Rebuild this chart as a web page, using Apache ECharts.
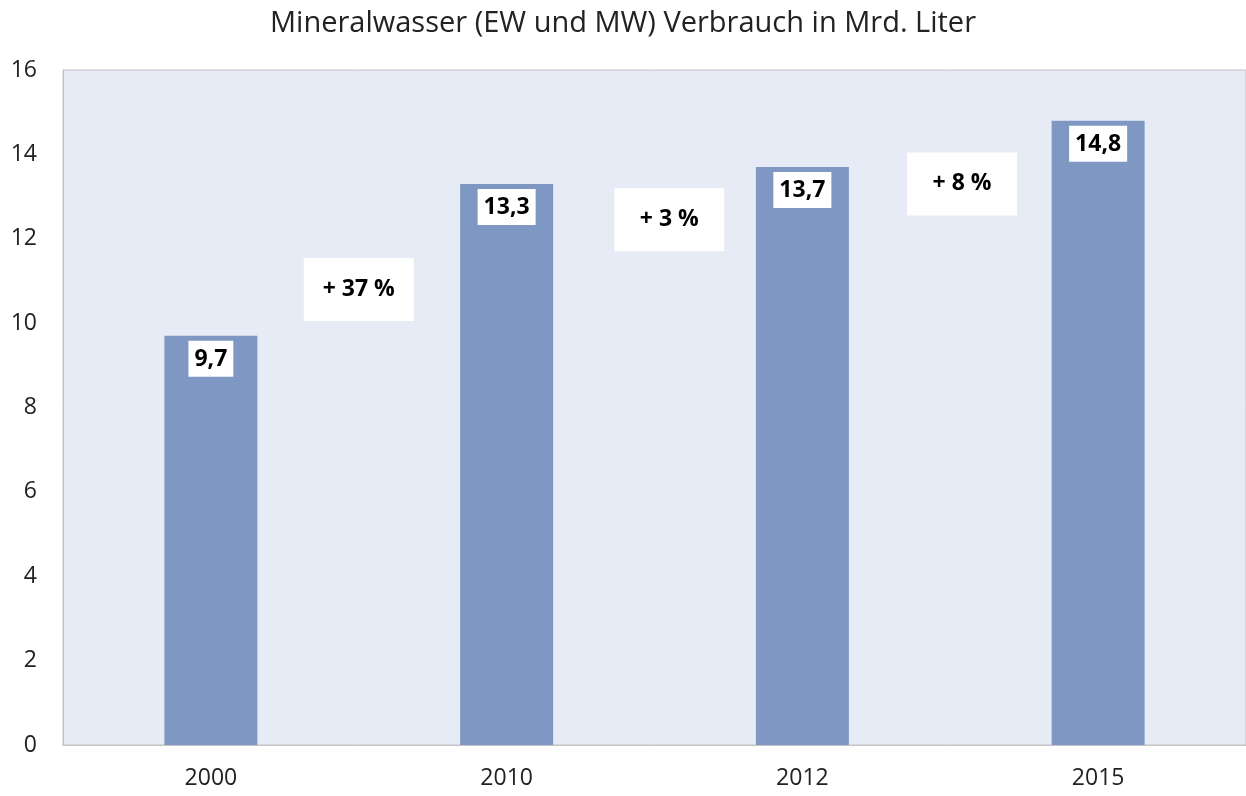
<!DOCTYPE html>
<html lang="de">
<head>
  <meta charset="UTF-8">
  <title>Mineralwasser Verbrauch</title>
  <style>
    * { margin: 0; padding: 0; }
    body { background: #ffffff; }
    #main { width: 1246px; height: 796px; }
  </style>
</head>
<body>
  <div id="main"></div>
  <script src="https://cdn.jsdelivr.net/npm/echarts@6/dist/echarts.min.js"></script>
  <script>
    // Daten
    var years = ['2000', '2010', '2012', '2015'];
    var verbrauch = [9.7, 13.3, 13.7, 14.8];
    // Veränderungen zwischen den Jahren: x-Position, Höhe, Text
    var changeX = [1.0, 2.05, 3.04];
    var changeY = [10.8, 12.45, 13.3];
    var changeText = ['+ 37 %', '+ 3 %', '+ 8 %'];
    var yTicks = { min: 0, max: 16, interval: 2 };

    var font = '"Open Sans", "Noto Sans", sans-serif';
    var chart = echarts.init(document.getElementById('main'));

    var option = {
      title: {
        text: 'Mineralwasser (EW und MW) Verbrauch in Mrd. Liter',
        left: 'center',
        top: 4,
        textStyle: { fontFamily: font, fontSize: 29, fontWeight: 'normal', color: '#222' }
      },
      grid: {
        left: 63, right: -2, top: 70, bottom: 51,
        show: true,
        backgroundColor: '#e7ebf5',
        borderColor: '#c4c4c4',
        borderWidth: 1
      },
      xAxis: [{
        type: 'category',
        data: years,
        axisTick: { show: false },
        axisLine: { lineStyle: { color: '#c4c4c4' } },
        axisLabel: { fontFamily: font, fontSize: 23, color: '#222', margin: 22 }
      }, {
        type: 'value',
        min: 0, max: 4,
        show: false
      }],
      yAxis: {
        type: 'value',
        min: yTicks.min, max: yTicks.max, interval: yTicks.interval,
        splitLine: { show: false },
        axisLine: { show: true, lineStyle: { color: '#c4c4c4' } },
        axisTick: { show: false },
        axisLabel: { fontFamily: font, fontSize: 23, color: '#222', margin: 26 }
      },
      series: [{
        type: 'bar',
        data: verbrauch,
        barWidth: 93,
        itemStyle: { color: '#7f98c3' },
        label: {
          show: true,
          position: 'insideTop',
          distance: 5,
          formatter: function (p) { return String(p.value).replace('.', ','); },
          fontFamily: font, fontSize: 23, fontWeight: 'bold', color: '#000',
          backgroundColor: '#fff',
          padding: [7, 6, 6, 6]
        }
      }, {
        type: 'scatter',
        xAxisIndex: 1,
        symbol: 'rect',
        symbolSize: [110, 63],
        itemStyle: { color: '#ffffff', opacity: 1 },
        data: changeX.map(function (x, i) { return [x, changeY[i], changeText[i]]; }),
        label: {
          show: true,
          position: 'inside',
          formatter: function (p) { return p.value[2]; },
          fontFamily: font, fontSize: 23, fontWeight: 'bold', color: '#000'
        },
        silent: true
      }]
    };

    chart.setOption(option);
  </script>
</body>
</html>
